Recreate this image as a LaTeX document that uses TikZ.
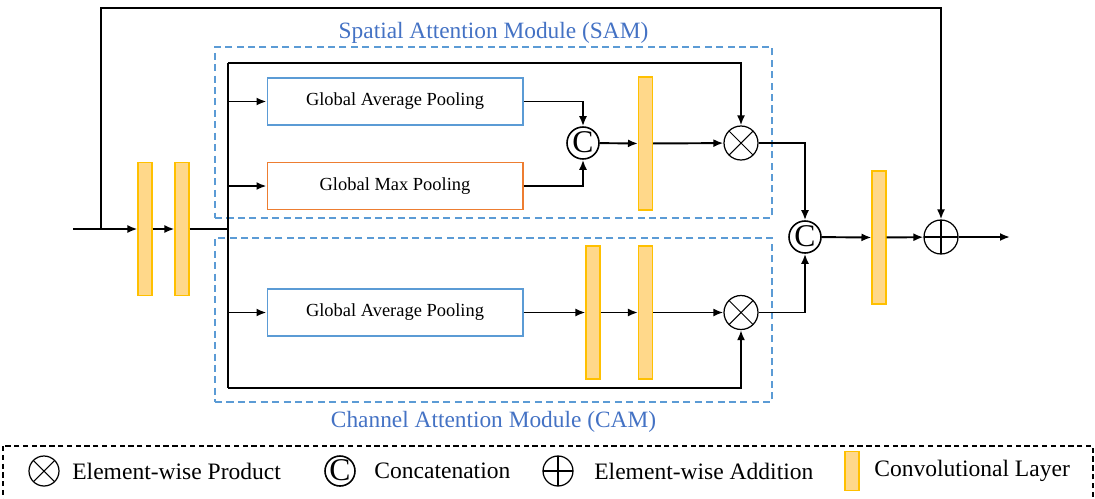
\documentclass[tikz,border=0pt]{standalone}
\usepackage{fontspec}
\setmainfont{Liberation Serif}
\usetikzlibrary{positioning, arrows.meta}
\definecolor{convedge}{RGB}{255,192,0}
\definecolor{convfill}{RGB}{255,216,138}
\definecolor{avgblue}{RGB}{91,155,213}
\definecolor{maxorange}{RGB}{237,125,49}
\definecolor{titleblue}{RGB}{68,114,196}
\tikzset{
	conv/.style={rectangle, draw=convedge, line width=0.6pt, fill=convfill,
		minimum width=0.28cm, minimum height=2.66cm, inner sep=0},
	poolbox/.style={rectangle, draw, line width=0.6pt, minimum width=5.12cm, minimum height=0.94cm,
		font=\fontsize{10.5}{12}\selectfont},
	prodop/.style={circle, draw, line width=0.7pt, minimum size=0.68cm, inner sep=0,
		path picture={\draw[line width=0.6pt] (path picture bounding box.north west) -- (path picture bounding box.south east)
			(path picture bounding box.north east) -- (path picture bounding box.south west);}},
	sumop/.style={circle, draw, line width=0.7pt, minimum size=0.68cm, inner sep=0,
		path picture={\draw[line width=0.6pt] (path picture bounding box.north) -- (path picture bounding box.south)
			(path picture bounding box.east) -- (path picture bounding box.west);}},
	catop/.style={circle, draw, line width=0.9pt, minimum size=0.64cm, inner sep=0,
		path picture={\node[inner sep=0, font=\fontsize{18}{18}\selectfont] at ([yshift=0.2pt]path picture bounding box.center) {C};}},
	modbox/.style={rectangle, draw=avgblue, line width=1pt, dash pattern=on 4pt off 2.5pt, minimum width=11.14cm},
	modtitle/.style={text=titleblue, font=\fontsize{13.3}{15}\selectfont},
	legtext/.style={font=\fontsize{13.4}{15}\selectfont, anchor=west, inner sep=0},
	arr/.style={line width=1.1pt, -{Latex[length=2mm, width=1.6mm]}},
	wire/.style={line width=1.1pt}
}
\begin{document}
\begin{tikzpicture}[x=0.02cm, y=-0.02cm]
	\useasboundingbox (0,0) rectangle (1095,498);

	% attention modules
	\node [modbox, minimum height=3.42cm] (sam) at (493.5,132.5) {};
	\node [modbox, minimum height=3.28cm] (cam) at (493.5,320) {};
	\node [modtitle, above = -0.08cm of sam] (samtitle) {Spatial Attention Module (SAM)};
	\node [modtitle, below = 0.04cm of cam] (camtitle) {Channel Attention Module (CAM)};

	% input convs
	\coordinate (in) at (73,229);
	\coordinate (skip) at (101,229);
	\coordinate (skiptop) at (101,8);
	\node [conv] (conv1) at (145,229) {};
	\node [conv] (conv2) at (182,229) {};
	\coordinate (split) at (228,229);
	\coordinate (splittop) at (228,63);
	\coordinate (splitbot) at (228,388);

	% SAM
	\node [poolbox, draw=avgblue] (gap1) at (395,101.5) {Global Average Pooling};
	\node [poolbox, draw=maxorange] (gmp) at (395,186) {Global Max Pooling};
	\node [catop] (cat1) at (583,143) {};
	\node [conv] (conv3) at (645.5,143.5) {};
	\node [prodop] (prod1) at (741,143) {};

	% CAM
	\node [poolbox, draw=avgblue] (gap2) at (395,312.5) {Global Average Pooling};
	\node [conv] (conv4) at (593,312.5) {};
	\node [conv] (conv5) at (645.5,312.5) {};
	\node [prodop] (prod2) at (741,312.5) {};

	% output
	\node [catop] (cat2) at (805,237) {};
	\node [conv] (conv6) at (879,237.5) {};
	\node [sumop] (sum) at (941,237) {};
	\coordinate (out) at (1010,237);

	\draw [arr] (in) -- (conv1);
	\draw [arr] (conv1) -- (conv2);
	\draw [wire] (conv2) -- (split);
	\draw [wire] (splittop) -- (splitbot);
	\draw [arr] (skip) -- (skiptop) -| (sum.north);

	\draw [arr] (split |- gap1.west) -- (gap1.west);
	\draw [arr] (split |- gmp.west) -- (gmp.west);
	\draw [arr] (split |- gap2.west) -- (gap2.west);
	\draw [arr] (splittop) -| (prod1.north);
	\draw [arr] (splitbot) -| (prod2.south);

	\draw [arr] (gap1.east) -| (cat1.north);
	\draw [arr] (gmp.east) -| (cat1.south);
	\draw [arr] (cat1) -- (conv3);
	\draw [arr] (conv3) -- (prod1);

	\draw [arr] (gap2) -- (conv4);
	\draw [arr] (conv4) -- (conv5);
	\draw [arr] (conv5) -- (prod2);

	\draw [arr] (prod1.east) -| (cat2.north);
	\draw [arr] (prod2.east) -| (cat2.south);
	\draw [arr] (cat2) -- (conv6);
	\draw [arr] (conv6) -- (sum);
	\draw [arr] (sum) -- (out);

	% legend
	\draw [line width=0.8pt, dash pattern=on 3pt off 2pt] (3,446) rectangle (1093,515);
	\node [prodop, minimum size=0.6cm] (legprod) at (44,471) {};
	\node [legtext] (legprodtext) at (72,471) {Element-wise Product};
	\node [catop, minimum size=0.6cm] (legcat) at (340,471) {};
	\node [legtext] (legcattext) at (374,471) {Concatenation};
	\node [sumop, minimum size=0.6cm] (legsum) at (558,471) {};
	\node [legtext] (legsumtext) at (594,471) {Element-wise Addition};
	\node [conv, minimum height=0.78cm] (legconv) at (852,471) {};
	\node [legtext] (legconvtext) at (874,471) {Convolutional Layer};
\end{tikzpicture}
\end{document}
